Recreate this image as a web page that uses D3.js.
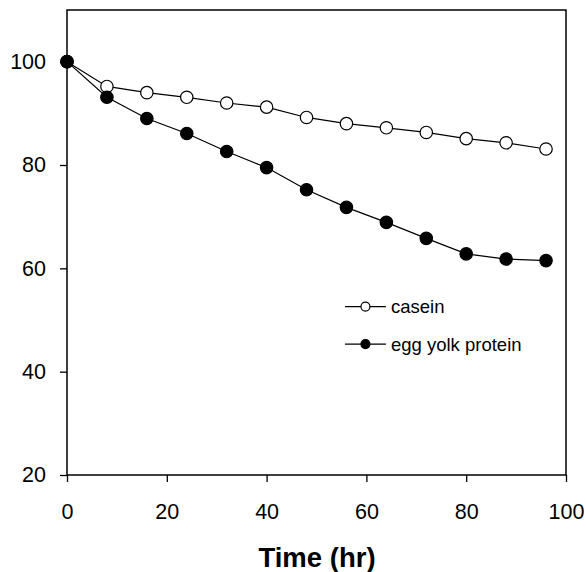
<!DOCTYPE html>
<html>
<head>
<meta charset="utf-8">
<script src="https://cdn.jsdelivr.net/npm/d3@7"></script>
<style>
  html, body { margin: 0; padding: 0; background: #fff; }
  svg { display: block; font-family: Arial, "Liberation Sans", sans-serif; }
</style>
</head>
<body>
<svg id="chart" width="586" height="572"></svg>
<script>
// data
const hours = [0, 8, 16, 24, 32, 40, 48, 56, 64, 72, 80, 88, 96];
const casein = [100, 95.2, 94, 93.1, 92, 91.2, 89.2, 88, 87.2, 86.3, 85.1, 84.3, 83.1];
const eggYolk = [100, 93.1, 89, 86.1, 82.6, 79.5, 75.2, 71.8, 68.9, 65.8, 62.8, 61.8, 61.5];
const xTicks = [0, 20, 40, 60, 80, 100];
const yTicks = [20, 40, 60, 80, 100];

const series = [
  { name: 'casein', values: casein, fill: '#fff' },
  { name: 'egg yolk protein', values: eggYolk, fill: '#000' }
];

const m = { top: 10, right: 20, bottom: 97, left: 67 };
const W = 586, H = 572;
const w = W - m.left - m.right;
const h = H - m.top - m.bottom;

const svg = d3.select('#chart');
const g = svg.append('g').attr('transform', `translate(${m.left},${m.top})`);

const x = d3.scaleLinear().domain([0, 100]).range([0, w]);
const y = d3.scaleLinear().domain([20, 110]).range([h, 0]);

// frame
g.append('rect')
  .attr('width', w).attr('height', h)
  .attr('fill', 'none').attr('stroke', '#000').attr('stroke-width', 1.5);

const xAxis = g.append('g').attr('transform', `translate(0,${h})`)
  .call(d3.axisBottom(x).tickValues(xTicks).tickSize(7).tickPadding(22).tickSizeOuter(0));
const yAxis = g.append('g')
  .call(d3.axisLeft(y).tickValues(yTicks).tickSize(7).tickPadding(14).tickSizeOuter(0));

[xAxis, yAxis].forEach(a => {
  a.select('.domain').remove();
  a.selectAll('line').attr('stroke', '#000').attr('stroke-width', 1.3);
  a.selectAll('text').attr('font-size', '21.5px').attr('fill', '#000')
    .attr('font-family', 'Arial, "Liberation Sans", sans-serif');
});

g.append('text')
  .attr('x', (x(0) + x(100)) / 2 + 0.5).attr('y', h + 92)
  .attr('text-anchor', 'middle')
  .attr('font-size', '27.5px').attr('font-weight', 'bold')
  .text('Time (hr)');

const line = d3.line().x((d, i) => x(hours[i])).y(d => y(d));

series.forEach(s => {
  g.append('path')
    .attr('d', line(s.values))
    .attr('fill', 'none').attr('stroke', '#000').attr('stroke-width', 1.2);
});
series.forEach(s => {
  g.selectAll(null).data(s.values).enter()
    .append('circle')
    .attr('cx', (d, i) => x(hours[i]))
    .attr('cy', d => y(d))
    .attr('r', 6.2)
    .attr('fill', s.fill).attr('stroke', '#000').attr('stroke-width', 1.2);
});

// legend
const legend = g.append('g').attr('transform', `translate(${x(55.7)},${y(52.6)})`);
series.forEach((s, i) => {
  const row = legend.append('g').attr('transform', `translate(0,${i * 37.5})`);
  row.append('line').attr('x1', 0).attr('x2', 41).attr('stroke', '#000').attr('stroke-width', 1.2);
  row.append('circle').attr('cx', 20.5).attr('r', 4.5)
    .attr('fill', s.fill).attr('stroke', '#000').attr('stroke-width', 1.2);
  row.append('text').attr('x', 46).attr('dy', '0.35em')
    .attr('font-size', '18.5px').text(s.name);
});
</script>
</body>
</html>
